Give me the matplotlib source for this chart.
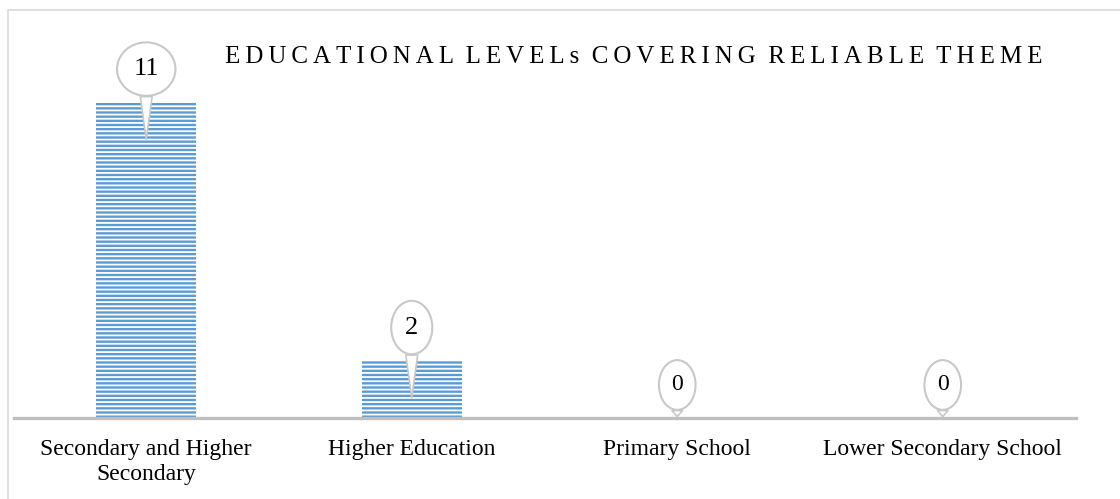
import matplotlib
matplotlib.use("Agg")
import matplotlib.pyplot as plt
from matplotlib.patches import Rectangle

categories = ["Secondary and Higher\nSecondary", "Higher Education",
              "Primary School", "Lower Secondary School"]
values = [11, 2, 0, 0]
title = "EDUCATIONAL LEVELs COVERING RELIABLE THEME"

plt.rcParams["font.family"] = ["Liberation Serif", "DejaVu Serif"]
plt.rcParams["hatch.linewidth"] = 1.3

fig = plt.figure(figsize=(11.2, 4.99), dpi=100)
fig.patch.set_facecolor("white")

# outer frame
fig.patches.append(Rectangle((8 / 1120, -0.01), 1.02, 1 - 10 / 499 + 0.01,
                             transform=fig.transFigure, fill=False,
                             ec="#D9D9D9", lw=1.2))

ax = fig.add_axes([13.5 / 1120, 81 / 499, 1062 / 1120, 344.6 / 499])
x = range(len(values))
ax.bar(x, values, width=0.377, color="#5B9BD5", edgecolor="white",
       linewidth=0, hatch="----", zorder=2)
ax.set_xlim(-0.5, 3.5)
ax.set_ylim(0, 12)
for s in ["top", "right", "left"]:
    ax.spines[s].set_visible(False)
ax.spines["bottom"].set_color("#BFBFBF")
ax.spines["bottom"].set_linewidth(2.4)
ax.set_yticks([])
ax.set_xticks(list(x))
ax.set_xticklabels(categories, fontsize=17, linespacing=1.25)
ax.tick_params(axis="x", length=0, pad=15)

# speech-bubble data labels
for i, v in enumerate(values):
    tip = max(v - 1.3, 0.05)
    ax.annotate(str(v), xy=(i, tip), xytext=(i, v + 1.15),
                ha="center", va="center", fontsize=19 if v else 17,
                bbox=dict(boxstyle="ellipse,pad=0.3" if v else "ellipse,pad=0.3",
                          fc="white", ec="#C8C8C8", lw=1.5),
                arrowprops=dict(arrowstyle="wedge,tail_width=0.45",
                                fc="white", ec="#C8C8C8", lw=1.2,
                                shrinkA=0, shrinkB=0),
                zorder=5)

spaced = "\u2009".join(title).replace("\u2009 \u2009", "  ")
fig.text(634 / 1120, 1 - 57 / 499, spaced, ha="center", va="center",
         fontsize=18, color="black")

fig.savefig("out.png", dpi=100)
